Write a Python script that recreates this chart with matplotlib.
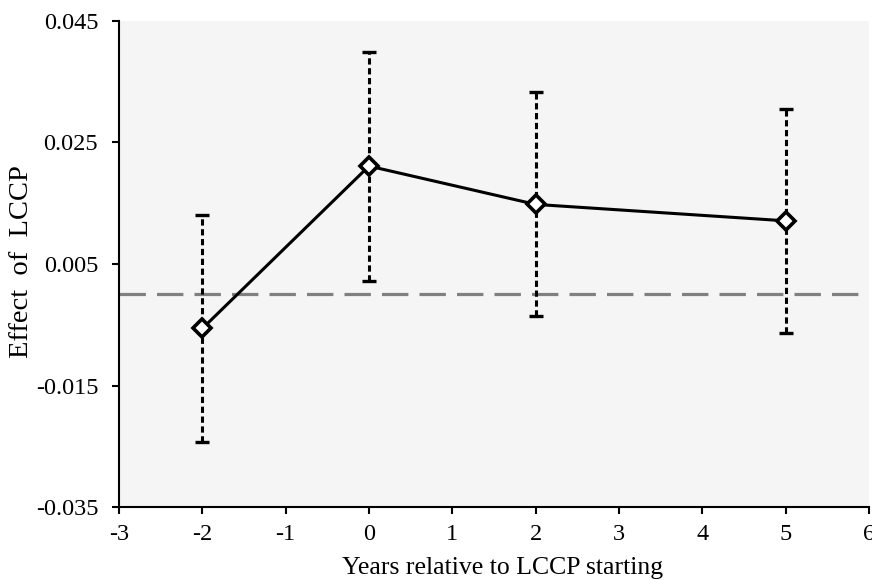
import matplotlib
matplotlib.use("Agg")
from matplotlib import pyplot as plt

# Event-study estimates
years = [-2, 0, 2, 5]
effect = [-0.0056, 0.0211, 0.0148, 0.0121]
ci_low = [-0.0242, 0.0022, -0.0036, -0.0063]
ci_high = [0.0131, 0.0399, 0.0333, 0.0305]

x_ticks = [-3, -2, -1, 0, 1, 2, 3, 4, 5, 6]
y_ticks = [-0.035, -0.015, 0.005, 0.025, 0.045]
y_tick_labels = ['-0.035', '-0.015', '0.005', '0.025', '0.045']

X_LABEL = 'Years relative to LCCP starting'
Y_LABEL = 'Effect  of  LCCP'

plt.rcParams['font.family'] = ['Liberation Serif', 'DejaVu Serif']
plt.rcParams['lines.scale_dashes'] = False
plt.rcParams['axes.unicode_minus'] = False

fig = plt.figure(figsize=(8.72, 5.80), dpi=100)
ax = fig.add_axes([0.1365, 0.1253, 0.86, 0.8390])
ax.set_facecolor('#f5f5f5')

# Zero reference line
ax.axhline(0, color='#808080', linewidth=2.3, dashes=(19, 8), zorder=1)

# Confidence intervals
err_low = [e - lo for e, lo in zip(effect, ci_low)]
err_high = [hi - e for e, hi in zip(effect, ci_high)]
eb = ax.errorbar(years, effect, yerr=[err_low, err_high], fmt='none',
                 ecolor='black', elinewidth=2.2, capsize=5, capthick=2.4,
                 zorder=2)
for line in eb[2]:
    line.set_linestyle((0, (4.5, 2.6)))

# Point estimates
ax.plot(years, effect, color='black', linewidth=2.2, marker='D',
        markersize=8.7, markerfacecolor='white', markeredgecolor='black',
        markeredgewidth=2.6, zorder=3)

ax.set_xlim(-3, 6)
ax.set_ylim(-0.035, 0.045)
ax.set_xticks(x_ticks)
ax.set_yticks(y_ticks)
ax.set_yticklabels(y_tick_labels)
ax.tick_params(axis='both', direction='out', length=5, width=1.5,
               labelsize=17.5)
ax.tick_params(axis='y', pad=10)
ax.tick_params(axis='x', pad=7)

for side in ['top', 'right']:
    ax.spines[side].set_visible(False)
for side in ['left', 'bottom']:
    ax.spines[side].set_linewidth(1.5)

ax.set_xlabel(X_LABEL, fontsize=18.5, va='center')
ax.xaxis.set_label_coords(0.512, -0.124)
ax.set_ylabel(Y_LABEL, fontsize=20.5, va='center')
ax.yaxis.set_label_coords(-0.130, 0.505)

fig.savefig('out.png', dpi=100)
